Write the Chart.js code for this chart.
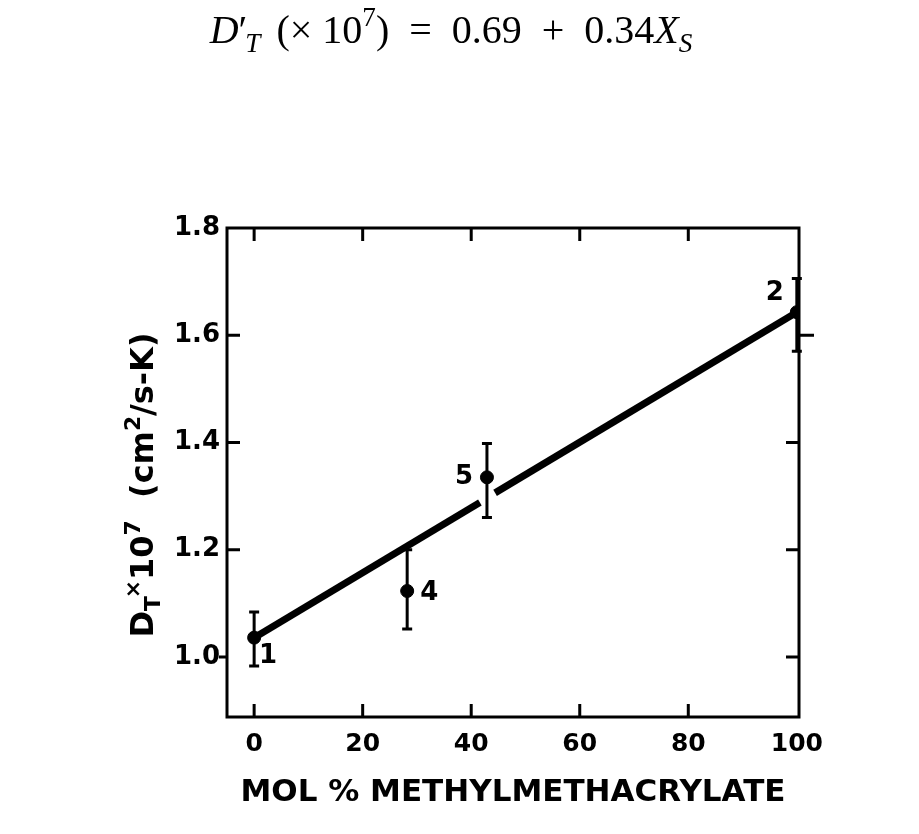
<!DOCTYPE html>
<html>
<head>
<meta charset="utf-8">
<script src="https://cdn.jsdelivr.net/npm/chart.js@4.4.1/dist/chart.umd.min.js"></script>
<style>
  html, body { margin: 0; padding: 0; background: #fff; }
  #wrap { width: 919px; height: 834px; }
</style>
</head>
<body>
<div id="wrap"><canvas id="c" width="919" height="834"></canvas></div>
<script>
// ---- data ----
const xTickValues = [0, 20, 40, 60, 80, 100];
const yTickValues = [1.0, 1.2, 1.4, 1.6, 1.8];
const molPct   = [0, 28.2, 42.9, 100];
const dT       = [1.036, 1.123, 1.335, 1.643];
const errLow   = [0.983, 1.052, 1.260, 1.570];
const errHigh  = [1.084, 1.200, 1.398, 1.706];
const pointLabels = ['1', '4', '5', '2'];
// fitted line (drawn with a break where it passes point 5)
const fitX = [0, 41.6, 44.4, 100];
const fitY = [1.036, 1.288, 1.306, 1.643];

const INK = '#000';
const SANS = '"DejaVu Sans", "Liberation Sans", Arial, sans-serif';
const labelOffsets = [[14, 19], [22, 2], [-23, 0], [-22, -19]];

function drawRich(ctx, parts, size, family) {
  let w = 0;
  const items = parts.map(p => {
    const s = p.sh ? size * 0.68 : size;
    const f = (p.it ? 'italic ' : '') + (p.bold ? 'bold ' : '') + s + 'px ' + family;
    ctx.font = f;
    const mw = ctx.measureText(p.t).width;
    const it = { t: p.t, f, mw, dy: p.sh === 'sub' ? size * 0.22 : (p.sh === 'sup' ? -size * 0.42 : 0), dx: p.dx || 0 };
    w += mw + it.dx;
    return it;
  });
  return { items, w };
}
function paintRich(ctx, rich, x0, y) {
  let x = x0;
  ctx.textAlign = 'left';
  ctx.textBaseline = 'alphabetic';
  rich.items.forEach(it => {
    x += it.dx;
    ctx.font = it.f;
    ctx.fillText(it.t, x, y + it.dy);
    x += it.mw;
  });
}

const framePlugin = {
  id: 'framePlugin',
  afterDatasetsDraw(chart) {
    const { ctx, chartArea: a, scales } = chart;
    const xs = scales.x, ys = scales.y;
    ctx.save();
    ctx.strokeStyle = INK;
    ctx.fillStyle = INK;
    // error bars
    ctx.lineWidth = 3;
    ctx.lineCap = 'butt';
    molPct.forEach((v, i) => {
      const px = xs.getPixelForValue(v);
      const y1 = ys.getPixelForValue(errLow[i]);
      const y2 = ys.getPixelForValue(errHigh[i]);
      ctx.beginPath();
      ctx.moveTo(px, y1); ctx.lineTo(px, y2);
      ctx.moveTo(px - 5, y1); ctx.lineTo(px + 5, y1);
      ctx.moveTo(px - 5, y2); ctx.lineTo(px + 5, y2);
      ctx.stroke();
    });
    // point labels
    ctx.font = 'bold 26px ' + SANS;
    ctx.textAlign = 'center';
    ctx.textBaseline = 'middle';
    pointLabels.forEach((t, i) => {
      const px = xs.getPixelForValue(molPct[i]);
      const py = ys.getPixelForValue(dT[i]);
      ctx.fillText(t, px + labelOffsets[i][0], py + labelOffsets[i][1]);
    });
    // frame
    ctx.lineWidth = 3;
    ctx.strokeRect(a.left, a.top, a.right - a.left, a.bottom - a.top);
    // ticks
    const tl = 13;
    ctx.beginPath();
    xTickValues.forEach(v => {
      const px = xs.getPixelForValue(v);
      if (px > a.right - 4) return;
      ctx.moveTo(px, a.bottom); ctx.lineTo(px, a.bottom - tl);
      ctx.moveTo(px, a.top); ctx.lineTo(px, a.top + tl);
    });
    yTickValues.forEach(v => {
      const py = ys.getPixelForValue(v);
      if (py < a.top + 4) return;
      if (v === 1.0) { ctx.moveTo(a.left, py); ctx.lineTo(a.left - 8, py); }
      else { ctx.moveTo(a.left, py); ctx.lineTo(a.left + tl, py); }
      if (v === 1.6) { ctx.moveTo(a.right, py); ctx.lineTo(a.right + 15, py); }
      else { ctx.moveTo(a.right, py); ctx.lineTo(a.right - tl, py); }
    });
    ctx.stroke();

    // formula at top
    ctx.fillStyle = INK;
    const serif = '"Liberation Serif", "DejaVu Serif", serif';
    const f = drawRich(ctx, [
      { t: 'D', it: true }, { t: '\u2032', it: false }, { t: 'T', it: true, sh: 'sub', dx: -2 },
      { t: ' (\u00D7 10', dx: 6 }, { t: '7', sh: 'sup' }, { t: ')  =  0.69  +  0.34' },
      { t: 'X', it: true }, { t: 'S', it: true, sh: 'sub' }
    ], 40, serif);
    paintRich(ctx, f, 451 - f.w / 2, 43);

    // y-axis title (rotated)
    const yl = drawRich(ctx, [
      { t: 'D', bold: true }, { t: 'T', bold: true, sh: 'sub' }, { t: '\u00D7', bold: true, sh: 'sup', dx: -2 }, { t: '10', bold: true },
      { t: '7', bold: true, sh: 'sup' }, { t: '  (cm', bold: true }, { t: '2', bold: true, sh: 'sup' },
      { t: '/s-K)', bold: true }
    ], 32, SANS);
    ctx.translate(153, 485);
    ctx.rotate(-Math.PI / 2);
    paintRich(ctx, yl, -yl.w / 2, 0);
    ctx.restore();
  }
};

const fitData = fitX.map((x, i) => ({ x, y: fitY[i] }));
const ptData = molPct.map((x, i) => ({ x, y: dT[i] }));

new Chart(document.getElementById('c'), {
  type: 'scatter',
  data: {
    datasets: [
      {
        label: 'fit',
        data: fitData,
        showLine: true,
        borderColor: INK,
        borderWidth: 7,
        pointRadius: 0,
        segment: { borderColor: c => (c.p0DataIndex === 1 ? 'rgba(0,0,0,0)' : INK) },
        order: 2
      },
      {
        label: 'data',
        data: ptData,
        backgroundColor: INK,
        borderColor: INK,
        pointRadius: 6.5,
        pointHoverRadius: 6.5,
        order: 1
      }
    ]
  },
  options: {
    responsive: false,
    animation: false,
    events: [],
    layout: { padding: { left: 0, right: 120, top: 228, bottom: 22 } },
    plugins: { legend: { display: false }, tooltip: { enabled: false }, title: { display: false } },
    scales: {
      x: {
        type: 'linear',
        min: -5, max: 100.4,
        afterBuildTicks: s => { s.ticks = xTickValues.map(v => ({ value: v })); },
        afterFit: s => { s.height = 95; },
        grid: { display: false, drawTicks: false },
        border: { display: false },
        ticks: { color: INK, padding: 12, font: { family: SANS, size: 25, weight: 'bold' } },
        title: {
          display: true, text: 'MOL % METHYLMETHACRYLATE', color: INK, padding: 0,
          font: { family: SANS, size: 31, weight: 'bold' }
        }
      },
      y: {
        type: 'linear',
        min: 0.888, max: 1.8,
        afterBuildTicks: s => { s.ticks = yTickValues.map(v => ({ value: v })); },
        afterFit: s => { s.width = 227; },
        grid: { display: false, drawTicks: false },
        border: { display: false },
        ticks: { color: INK, padding: 7, callback: v => Number(v).toFixed(1), font: { family: SANS, size: 26, weight: 'bold' } }
      }
    }
  },
  plugins: [framePlugin]
});
</script>
</body>
</html>
